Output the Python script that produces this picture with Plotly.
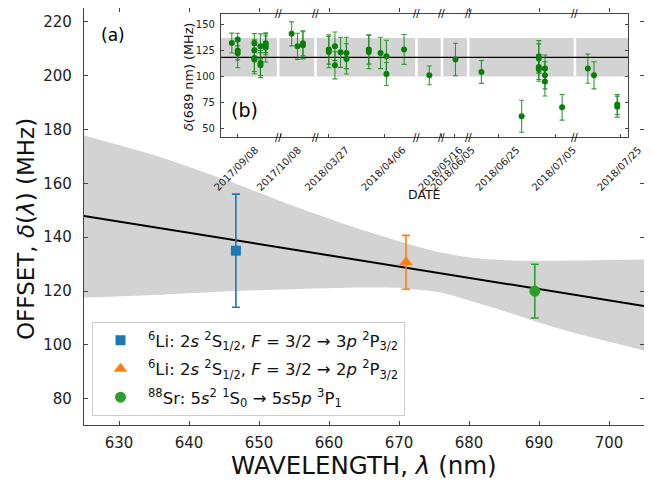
import plotly.graph_objects as go

# ---------------- main panel (a) ----------------
li3p_wl = [646.7]; li3p_off = [135.0]; li3p_err = [21.0]
li2p_wl = [671.0]; li2p_off = [130.7]; li2p_err = [10.0]
sr_wl = [689.4]; sr_off = [120.0]; sr_err = [10.0]

fit_wl = [625, 705]
fit_off = [147.9, 114.5]

band_wl = [625, 635, 645, 655, 665, 671, 676, 681, 686, 691, 696, 705]
band_hi = [177.8, 170.5, 161.5, 151.5, 142.5, 137.8, 134.3, 132.2, 131.4, 131.3, 131.4, 131.7]
band_lo = [117.6, 118.6, 119.9, 120.7, 121.3, 121.0, 119.5, 115.8, 111.8, 107.5, 103.8, 98.0]

x_ticks = [630, 640, 650, 660, 670, 680, 690, 700]
y_ticks = [80, 100, 120, 140, 160, 180, 200, 220]

# ---------------- inset panel (b) ----------------
meas_dates = [
    "2017-09-07 00:00",
    "2017-09-08 01:00", "2017-09-08 01:00", "2017-09-08 01:00",
    "2017-09-11 00:00", "2017-09-11 00:00", "2017-09-11 00:00", "2017-09-11 00:00",
    "2017-09-12 02:00", "2017-09-12 02:00", "2017-09-12 02:00",
    "2017-09-13 00:00", "2017-09-13 00:00", "2017-09-13 00:00",
    "2017-10-10 00:00", "2017-10-11 01:00", "2017-10-12 00:00", "2017-10-12 00:00",
    "2018-03-27 02:00", "2018-03-27 02:00",
    "2018-03-28 04:00", "2018-03-28 04:00",
    "2018-03-29 04:00",
    "2018-03-30 05:00", "2018-03-30 05:00",
    "2018-04-03 04:00", "2018-04-03 04:00",
    "2018-04-05 06:00",
    "2018-04-06 07:00", "2018-04-06 07:00",
    "2018-04-09 10:00",
    "2018-05-13 19:00",
    "2018-06-05 06:00",
    "2018-06-21 22:00",
    "2018-06-29 01:00",
    "2018-07-02 02:00", "2018-07-02 02:00", "2018-07-02 02:00", "2018-07-02 02:00",
    "2018-07-03 04:00", "2018-07-03 04:00", "2018-07-03 04:00",
    "2018-07-06 05:00",
    "2018-07-19 05:00",
    "2018-07-20 07:00",
    "2018-07-24 10:00", "2018-07-24 10:00",
]
meas_delta = [
    132.2,
    135.5, 125.0, 122.5,
    132.2, 125.2, 117.9, 116.3,
    129.0, 113.0, 111.0,
    132.0, 130.0, 128.0,
    141.0, 129.0, 132.0, 130.0,
    126.0, 123.5,
    129.0, 110.8,
    123.3,
    122.7, 117.0,
    126.0, 123.6,
    122.7,
    119.5, 102.5,
    126.0,
    101.2,
    116.4,
    104.5,
    62.0,
    119.0, 117.4, 109.3, 107.0,
    107.7, 101.2, 95.4,
    70.6,
    107.7,
    101.2,
    73.2, 71.2,
]
meas_err = [
    9.5,
    6.0, 9.0, 14.0,
    9.0, 10.0, 13.0, 13.5,
    12.0, 12.0, 12.0,
    9.0, 9.0, 14.0,
    11.5, 12.5, 12.0, 13.0,
    14.0, 15.0,
    13.7, 13.0,
    14.4,
    15.0, 14.5,
    14.0, 16.0,
    15.0,
    15.3, 11.0,
    14.3,
    9.0,
    15.6,
    11.0,
    15.3,
    15.5, 14.0, 12.0, 11.5,
    13.0, 13.0, 14.0,
    12.3,
    14.0,
    13.0,
    9.5, 10.0,
]

seg_start = ["2017-09-05 02:00", "2017-10-07 14:40", "2018-03-24 17:30", "2018-05-11 12:30",
             "2018-06-02 20:40", "2018-06-19 13:40", "2018-07-16 21:50"]
seg_end = ["2017-09-15 05:00", "2017-10-14 05:30", "2018-04-11 14:40", "2018-05-16 01:00",
           "2018-06-07 12:00", "2018-07-08 11:20", "2018-07-26 07:30"]

date_ticks = ["2017-09-08", "2017-10-08", "2018-03-27", "2018-04-06", "2018-05-16",
              "2018-06-05", "2018-06-25", "2018-07-05", "2018-07-25"]
date_labels = ["2017/09/08", "2017/10/08", "2018/03/27", "2018/04/06", "2018/05/16",
               "2018/06/05", "2018/06/25", "2018/07/05", "2018/07/25"]
delta_ticks = [50, 75, 100, 125, 150]

mean_delta = 118.4
mean_band_lo = 100.0
mean_band_hi = 137.0

FONT = "DejaVu Sans"
AX = "#444444"

fig = go.Figure()

# band + fit (main)
fig.add_trace(go.Scatter(x=band_wl, y=band_lo, mode="lines", line=dict(width=0, shape="spline", smoothing=0.6),
                         showlegend=False, hoverinfo="skip", xaxis="x", yaxis="y"))
fig.add_trace(go.Scatter(x=band_wl, y=band_hi, mode="lines", line=dict(width=0, shape="spline", smoothing=0.6),
                         fill="tonexty", fillcolor="#d3d3d3", showlegend=False, hoverinfo="skip",
                         xaxis="x", yaxis="y"))
fig.add_trace(go.Scatter(x=fit_wl, y=fit_off, mode="lines", line=dict(color="black", width=2),
                         showlegend=False, xaxis="x", yaxis="y"))

fig.add_trace(go.Scatter(
    x=li3p_wl, y=li3p_off, mode="markers", xaxis="x", yaxis="y",
    marker=dict(symbol="square", size=10, color="#1f77b4"),
    error_y=dict(type="data", array=li3p_err, color="#1f77b4", thickness=1.6, width=4),
    name="<sup>6</sup>Li: 2<i>s</i> <sup>2</sup>S<sub>1/2</sub>, <i>F</i> = 3/2 → 3<i>p</i> <sup>2</sup>P<sub>3/2</sub>",
    legendgroup="a"))
fig.add_trace(go.Scatter(
    x=li2p_wl, y=li2p_off, mode="markers", xaxis="x", yaxis="y",
    marker=dict(symbol="triangle-up", size=12, color="#ff7f0e"),
    error_y=dict(type="data", array=li2p_err, color="#ff7f0e", thickness=1.6, width=4),
    name="<sup>6</sup>Li: 2<i>s</i> <sup>2</sup>S<sub>1/2</sub>, <i>F</i> = 3/2 → 2<i>p</i> <sup>2</sup>P<sub>3/2</sub>",
    legendgroup="b"))
fig.add_trace(go.Scatter(
    x=sr_wl, y=sr_off, mode="markers", xaxis="x", yaxis="y",
    marker=dict(symbol="circle", size=11, color="#2ca02c"),
    error_y=dict(type="data", array=sr_err, color="#2ca02c", thickness=1.6, width=4),
    name="<sup>88</sup>Sr: 5<i>s</i><sup>2</sup> <sup>1</sup>S<sub>0</sub> → 5<i>s</i>5<i>p</i> <sup>3</sup>P<sub>1</sub>",
    legendgroup="c"))

# inset data
fig.add_trace(go.Scatter(
    x=meas_dates, y=meas_delta, mode="markers", xaxis="x2", yaxis="y2", showlegend=False,
    marker=dict(symbol="circle", size=6, color="#0a7d0a"),
    error_y=dict(type="data", array=meas_err, color="rgba(20,135,20,0.85)", thickness=1.1, width=2.5)))

shapes = [
    dict(type="rect", xref="x2", yref="y2", x0=seg_start[0], x1=seg_end[-1], y0=mean_band_lo, y1=mean_band_hi,
         fillcolor="#d3d3d3", line=dict(width=0), layer="below"),
]
for e in seg_end[:-1]:
    shapes.append(dict(type="line", xref="x2", yref="y2", x0=e, x1=e, y0=mean_band_lo, y1=mean_band_hi,
                       line=dict(color="white", width=2.5), layer="below"))
shapes.append(dict(type="line", xref="x2", yref="y2", x0=seg_start[0], x1=seg_end[-1], y0=mean_delta, y1=mean_delta,
                   line=dict(color="black", width=1.3), layer="below"))

annotations = [
    dict(text="(a)", xref="x domain", yref="y domain", x=0.052, y=0.935, xanchor="center", yanchor="middle",
         showarrow=False, font=dict(family=FONT, size=17, color="black")),
    dict(text="(b)", xref="x2 domain", yref="y2 domain", x=0.059, y=0.215, xanchor="center", yanchor="middle",
         showarrow=False, font=dict(family=FONT, size=19, color="black")),
    dict(text="WAVELENGTH, <i>λ</i> (nm)", xref="x domain", yref="y domain", x=0.5, y=-0.098,
         xanchor="center", yanchor="middle", showarrow=False, font=dict(family=FONT, size=24.5, color="#111111")),
    dict(text="OFFSET, <i>δ</i>(<i>λ</i>) (MHz)", xref="x domain", yref="y domain", x=-0.1036, y=0.47,
         xanchor="center", yanchor="middle", textangle=-90, showarrow=False,
         font=dict(family=FONT, size=23, color="#111111")),
    dict(text="DATE", xref="x2 domain", yref="y2 domain", x=0.5, y=-0.4615,
         xanchor="center", yanchor="middle", showarrow=False, font=dict(family=FONT, size=12.5, color="#111111")),
    dict(text="<i>δ</i>(689 nm) (MHz)", xref="x2 domain", yref="y2 domain", x=-0.0786, y=0.486,
         xanchor="center", yanchor="middle", textangle=-90, showarrow=False,
         font=dict(family=FONT, size=12.8, color="#111111")),
]
for e in seg_end[:-1]:
    for yy in (0, 1):
        annotations.append(dict(text="//", xref="x2", yref="y2 domain", x=e, y=yy, showarrow=False,
                                font=dict(family=FONT, size=10, color="black"), xanchor="center", yanchor="middle"))

ax_common = dict(showline=True, linecolor=AX, linewidth=1.2, mirror="ticks", ticks="inside", ticklen=4,
                 tickwidth=1, tickcolor=AX, showgrid=False, zeroline=False, automargin=False)

# the page body adds an 8 px offset; figure is sized so the plot area lands at x 84-644, y 8-425
fig.update_layout(
    width=644, height=475, margin=dict(l=76, r=8, t=0, b=58),
    paper_bgcolor="white", plot_bgcolor="white",
    font=dict(family=FONT, color="#222222"),
    shapes=shapes, annotations=annotations,
    xaxis=dict(domain=[0, 1], anchor="y", range=[625, 705], tickvals=x_ticks,
               tickfont=dict(size=15), ticklabelstandoff=4, **ax_common),
    yaxis=dict(domain=[0, 1], anchor="x", range=[70.3, 225.1], tickvals=y_ticks,
               tickfont=dict(size=15), ticklabelstandoff=8, **ax_common),
    xaxis2=dict(domain=[0.2446, 0.9714], anchor="y2", type="date", range=[seg_start[0], seg_end[-1]],
                rangebreaks=[dict(bounds=[seg_end[i], seg_start[i + 1]]) for i in range(len(seg_start) - 1)],
                tickvals=date_ticks, ticktext=date_labels, tickangle=-45, tickfont=dict(size=10),
                ticklabelshift=18, ticklabelstandoff=2,
                showline=True, linecolor=AX, linewidth=1.2, mirror=True, ticks="inside", ticklen=3,
                tickcolor=AX, showgrid=False, zeroline=False, automargin=False),
    yaxis2=dict(domain=[0.6906, 0.9868], anchor="x2", range=[42.1, 160.5], tickvals=delta_ticks,
                tickfont=dict(size=10), ticklabelstandoff=3,
                showline=True, linecolor=AX, linewidth=1.2, mirror="ticks", ticks="inside", ticklen=3,
                tickcolor=AX, showgrid=False, zeroline=False, automargin=False),
    legend=dict(x=0.0143, y=0.247, xanchor="left", yanchor="top", bgcolor="rgba(255,255,255,0.85)",
                bordercolor="#cccccc", borderwidth=1, font=dict(size=16.5, color="#111111"),
                itemwidth=45, tracegroupgap=4),
)

fig.write_html("out.html")
